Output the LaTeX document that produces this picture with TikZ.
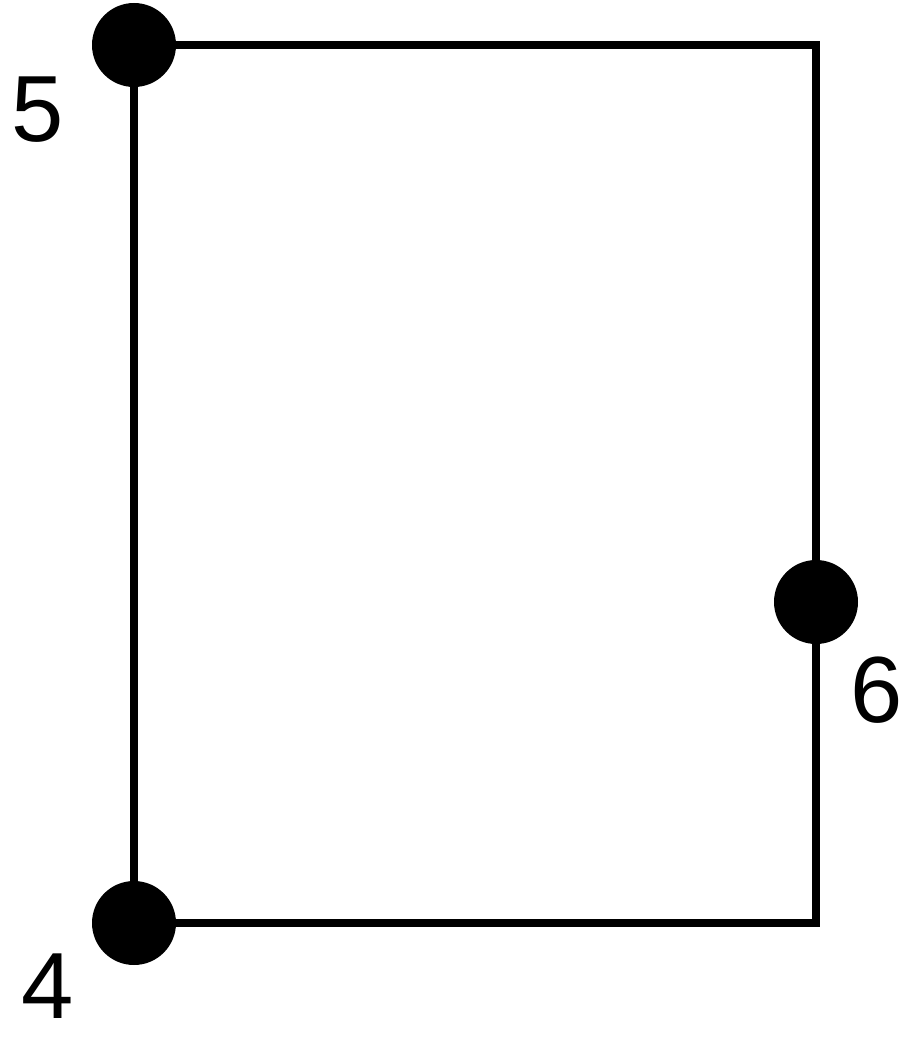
\documentclass[tikz,border=0pt]{standalone}
\usepackage{fontspec}
\setmainfont{Liberation Sans}
\begin{document}
\begin{tikzpicture}[x=1pt,y=-1pt,
  vdot/.style={circle,fill=black,inner sep=0pt,minimum size=84pt},
  edge/.style={line width=8pt,black},
  lbl/.style={font=\fontsize{94}{94}\selectfont,inner sep=0pt}]
\useasboundingbox (0,0) rectangle (906,1041);
\node[vdot] (n5) at (134,45) {};
\node[vdot] (n4) at (134,923) {};
\node[vdot] (n6) at (816,602) {};
\draw[edge] (n5.center) -- (n4.center);
\draw[edge] (n5.center) -| (n6.center);
\draw[edge] (n4.center) -| (n6.center);
\node[lbl] (l5) at (38,110) {5};
\node[lbl] (l6) at (877,690) {6};
\node[lbl] (l4) at (48,986) {4};
\end{tikzpicture}
\end{document}
